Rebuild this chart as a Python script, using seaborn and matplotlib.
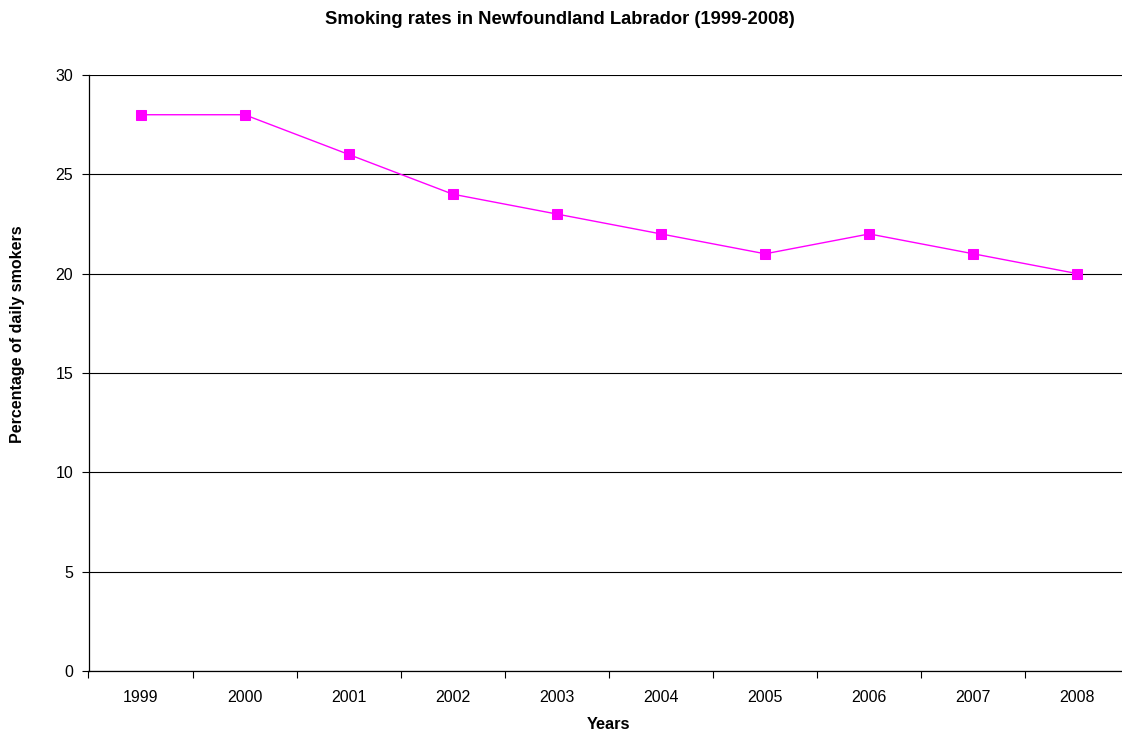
import numpy as np
import pandas as pd
import matplotlib
matplotlib.use("Agg")
import matplotlib.pyplot as plt
import seaborn as sns

years = [1999, 2000, 2001, 2002, 2003, 2004, 2005, 2006, 2007, 2008]
rates = [28, 28, 26, 24, 23, 22, 21, 22, 21, 20]

df = pd.DataFrame({"year": years, "rate": rates})

sns.set_style("white", {"xtick.bottom": True, "ytick.left": True,
                        "text.color": "black", "axes.labelcolor": "black",
                        "xtick.color": "black", "ytick.color": "black"})
plt.rcParams['font.family'] = ['Liberation Sans', 'DejaVu Sans']

fig = plt.figure(figsize=(11.22, 7.36), dpi=100)
ax = fig.add_axes([88.5 / 1122, 1 - 671 / 736, 1041 / 1122, 596 / 736])

sns.lineplot(data=df, x="year", y="rate", ax=ax, color="#FF00FF", linewidth=1,
             marker="s", markersize=7, markeredgecolor="#FF00FF", markerfacecolor="#FF00FF")

ax.set_xlim(1998.5, 2008.5)
ax.set_ylim(0, 30)
ax.set_yticks(range(0, 31, 5))
ax.yaxis.grid(True, color="black", linewidth=0.8)
ax.set_axisbelow(True)

ax.set_xticks(years)
ax.set_xticklabels([str(y) for y in years])
ax.set_xticks(np.arange(1998.5, 2008.6, 1), minor=True)
ax.tick_params(axis="x", which="major", bottom=True, length=0, pad=14, labelsize=11.5, labelcolor="black")
ax.tick_params(axis="x", which="minor", bottom=True, length=5, width=0.8, color="black", direction="out")
ax.tick_params(axis="y", left=True, length=5, width=0.8, color="black", direction="out",
               labelsize=11.5, pad=6, labelcolor="black")

for s in ["top", "right"]:
    ax.spines[s].set_visible(False)
for s in ["left", "bottom"]:
    ax.spines[s].set_color("black")
    ax.spines[s].set_linewidth(0.9)

ax.set_xlabel("Years", fontsize=11.8, fontweight="bold", labelpad=8, color="black")
ax.set_ylabel("Percentage of daily smokers", fontsize=11.5, fontweight="bold", color="black")
ax.yaxis.set_label_coords(-63 / 1041, (671 - 334) / 596)
fig.text(560 / 1122, 1 - 19 / 736, "Smoking rates in Newfoundland Labrador (1999-2008)",
         ha="center", va="center", fontsize=13.2, fontweight="bold", color="black")

fig.savefig("out.png", dpi=100)
